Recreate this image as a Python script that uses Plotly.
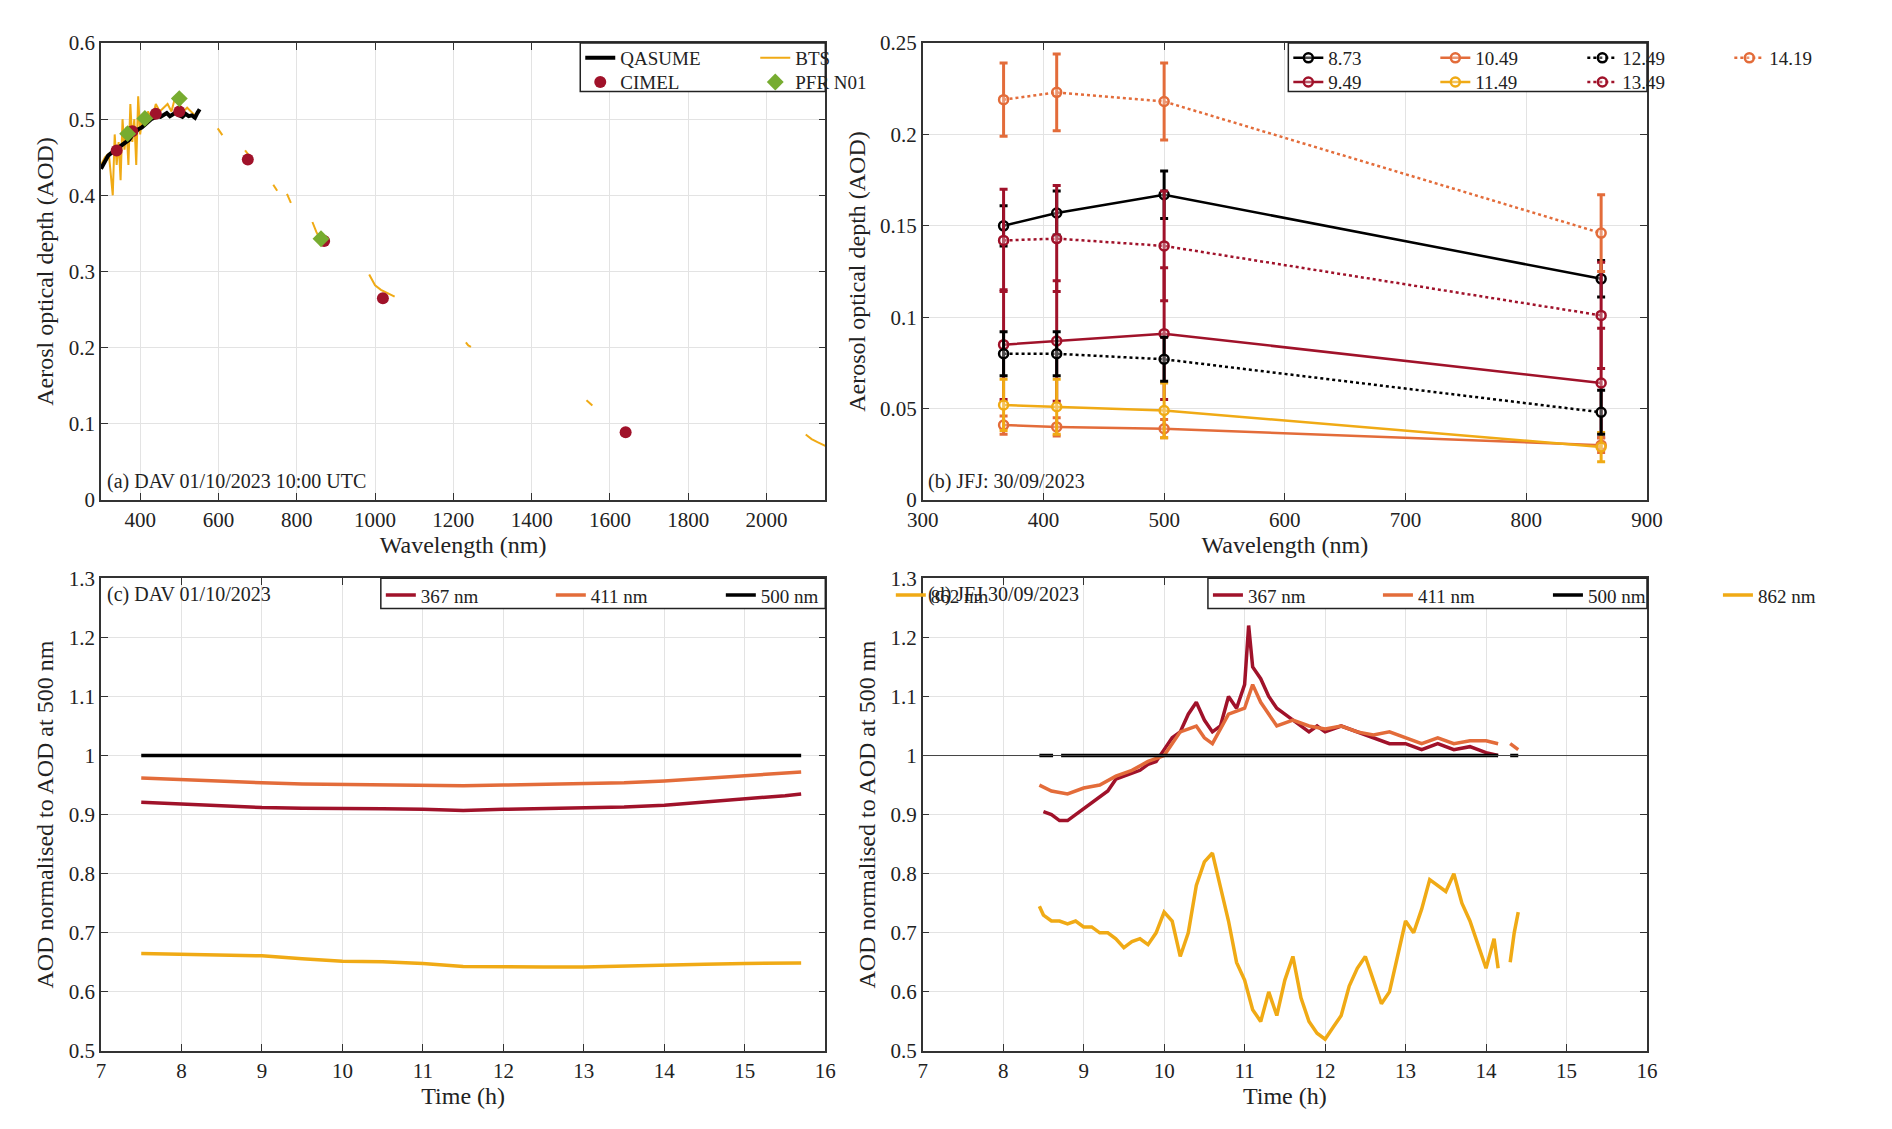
import plotly.graph_objects as go

# ---- panel (a): AOD spectrum DAV
qas_wl = [300, 305, 310, 318, 325, 332, 340, 348, 356, 364, 372, 380, 388, 396, 404, 412, 420, 428, 436, 444, 452, 460, 468, 476, 484, 492, 500, 508, 516, 524, 532, 540, 546, 552]
qas_aod = [0.435, 0.440, 0.446, 0.452, 0.455, 0.457, 0.460, 0.464, 0.467, 0.470, 0.473, 0.479, 0.483, 0.487, 0.489, 0.493, 0.497, 0.500, 0.502, 0.504, 0.503, 0.506, 0.508, 0.504, 0.507, 0.509, 0.505, 0.503, 0.507, 0.504, 0.505, 0.502, 0.508, 0.513]
bts_wl = [300, 310, 320, 330, 335, 340, 345, 350, 355, 360, 365, 370, 375, 380, 385, 390, 395, 400, 405, 410, 420, 430, 440, 450, 460, 470, 480, 490, 500, 510, 520, 530, 540, 550, None,
          598, 604, 610, None, 668, 674, 680, None, 740, 745, 750, None, 775, 780, 785, None,
          840, 850, 860, 870, 880, None, 985, 1000, 1015, 1030, 1045, 1050, None,
          1232, 1238, 1245, None, 1540, 1548, 1555, None, 2100, 2115, 2130, 2150]
bts_aod = [0.44, 0.45, 0.455, 0.40, 0.48, 0.44, 0.47, 0.42, 0.50, 0.46, 0.49, 0.44, 0.52, 0.47, 0.50, 0.44, 0.53, 0.48, 0.50, 0.49, 0.51, 0.50, 0.52, 0.51, 0.515, 0.52, 0.51, 0.53, 0.52, 0.51, 0.515, 0.51, 0.505, 0.51, None,
           0.488, 0.483, 0.479, None, 0.459, 0.455, 0.451, None, 0.414, 0.410, 0.406, None, 0.402, 0.396, 0.390, None,
           0.365, 0.352, 0.342, 0.337, 0.336, None, 0.296, 0.282, 0.276, 0.272, 0.268, 0.267, None,
           0.207, 0.203, 0.201, None, 0.131, 0.127, 0.124, None, 0.086, 0.080, 0.076, 0.071]
cimel_wl = [340, 380, 440, 500, 675, 870, 1020, 1640]
cimel_aod = [0.459, 0.484, 0.507, 0.510, 0.447, 0.340, 0.265, 0.089]
pfr_wl = [368, 412, 500, 862]
pfr_aod = [0.481, 0.501, 0.527, 0.343]

# ---- panel (b): AOD spectra JFJ at different hours
b_wl = [367, 411, 500, 862]
b_hours = ["8.73", "9.49", "10.49", "11.49", "12.49", "13.49", "14.19"]
b_aod = {
    "8.73": [0.150, 0.157, 0.167, 0.121],
    "9.49": [0.085, 0.087, 0.091, 0.064],
    "10.49": [0.041, 0.040, 0.039, 0.030],
    "11.49": [0.052, 0.051, 0.049, 0.029],
    "12.49": [0.080, 0.080, 0.077, 0.048],
    "13.49": [0.142, 0.143, 0.139, 0.101],
    "14.19": [0.219, 0.223, 0.218, 0.146],
}
b_err = {
    "8.73": [0.011, 0.012, 0.013, 0.010],
    "9.49": [0.030, 0.033, 0.036, 0.030],
    "10.49": [0.005, 0.005, 0.005, 0.004],
    "11.49": [0.014, 0.015, 0.015, 0.008],
    "12.49": [0.012, 0.012, 0.012, 0.012],
    "13.49": [0.028, 0.029, 0.030, 0.029],
    "14.19": [0.020, 0.021, 0.021, 0.021],
}

# ---- panel (c): normalised AOD DAV
c_t = [7.5, 8.0, 8.5, 9.0, 9.5, 10.0, 10.5, 11.0, 11.5, 12.0, 12.5, 13.0, 13.5, 14.0, 14.5, 15.0, 15.5, 15.7]
c_367 = [0.921, 0.918, 0.915, 0.912, 0.911, 0.911, 0.910, 0.909, 0.907, 0.909, 0.910, 0.911, 0.913, 0.916, 0.921, 0.926, 0.932, 0.935]
c_411 = [0.962, 0.959, 0.956, 0.954, 0.952, 0.951, 0.951, 0.950, 0.949, 0.950, 0.951, 0.952, 0.954, 0.957, 0.961, 0.965, 0.970, 0.972]
c_500 = [1.0] * 18
c_862 = [0.665, 0.664, 0.663, 0.661, 0.656, 0.652, 0.651, 0.648, 0.643, 0.642, 0.642, 0.642, 0.644, 0.646, 0.647, 0.648, 0.649, 0.649]

# ---- panel (d): normalised AOD JFJ
d_t862 = [8.45, 8.5, 8.6, 8.7, 8.8, 8.9, 9.0, 9.1, 9.2, 9.3, 9.4, 9.5, 9.6, 9.7, 9.8, 9.9, 10.0, 10.1, 10.2, 10.3, 10.4, 10.5, 10.6, 10.7, 10.8, 10.9,
          11.0, 11.1, 11.2, 11.3, 11.4, 11.5, 11.6, 11.7, 11.8, 11.9, 12.0, 12.1, 12.2, 12.3, 12.4, 12.5, 12.6, 12.7, 12.8, 12.9,
          13.0, 13.1, 13.2, 13.3, 13.4, 13.5, 13.6, 13.7, 13.8, 13.9, 14.0, 14.1, 14.15, None, 14.3, 14.35, 14.4]
d_862 = [0.745, 0.73, 0.72, 0.72, 0.715, 0.72, 0.71, 0.71, 0.70, 0.70, 0.69, 0.675, 0.685, 0.69, 0.68, 0.70, 0.735, 0.72, 0.66, 0.70, 0.78, 0.82, 0.835, 0.78, 0.72, 0.65,
         0.62, 0.57, 0.55, 0.60, 0.56, 0.62, 0.66, 0.59, 0.55, 0.53, 0.52, 0.54, 0.56, 0.61, 0.64, 0.66, 0.62, 0.58, 0.60, 0.66,
         0.72, 0.70, 0.74, 0.79, 0.78, 0.77, 0.80, 0.75, 0.72, 0.68, 0.64, 0.69, 0.64, None, 0.65, 0.70, 0.735]
d_t367 = [8.5, 8.6, 8.7, 8.8, 8.9, 9.0, 9.1, 9.2, 9.3, 9.4, 9.5, 9.6, 9.7, 9.8, 9.9, 10.0, 10.1, 10.2, 10.3, 10.4, 10.5, 10.6, 10.7, 10.8, 10.9,
          11.0, 11.05, 11.1, 11.2, 11.3, 11.4, 11.5, 11.6, 11.7, 11.8, 11.9, 12.0, 12.2, 12.4, 12.6, 12.8, 13.0, 13.2, 13.4, 13.6, 13.8, 14.0, 14.15]
d_367 = [0.905, 0.90, 0.89, 0.89, 0.90, 0.91, 0.92, 0.93, 0.94, 0.96, 0.965, 0.97, 0.975, 0.985, 0.99, 1.01, 1.03, 1.04, 1.07, 1.09, 1.06, 1.04, 1.05, 1.10, 1.08,
         1.12, 1.22, 1.15, 1.13, 1.10, 1.08, 1.07, 1.06, 1.05, 1.04, 1.05, 1.04, 1.05, 1.04, 1.03, 1.02, 1.02, 1.01, 1.02, 1.01, 1.015, 1.005, 1.0]
d_t411 = [8.45, 8.6, 8.8, 9.0, 9.2, 9.4, 9.6, 9.8, 10.0, 10.2, 10.4, 10.5, 10.6, 10.8, 11.0, 11.1, 11.2, 11.4, 11.6, 11.8, 12.0, 12.2, 12.4, 12.6, 12.8,
          13.0, 13.2, 13.4, 13.6, 13.8, 14.0, 14.15, None, 14.3, 14.4]
d_411 = [0.95, 0.94, 0.935, 0.945, 0.95, 0.965, 0.975, 0.99, 1.00, 1.04, 1.05, 1.03, 1.02, 1.07, 1.08, 1.12, 1.09, 1.05, 1.06, 1.05, 1.045, 1.05, 1.04, 1.035, 1.04,
         1.03, 1.02, 1.03, 1.02, 1.025, 1.025, 1.02, None, 1.02, 1.01]
d_t500 = [8.45, 8.62, None, 8.72, 14.15, None, 14.3, 14.4]
d_500 = [1.0, 1.0, None, 1.0, 1.0, None, 1.0, 1.0]

BLACK = "#000000"
RED = "#a0122a"
ORANGE = "#e36c3a"
YELLOW = "#f0aa15"
GREEN = "#77ac30"
FONT = "Liberation Serif"

fig = go.Figure()

# (a) - two legend rows
fig.add_trace(go.Scatter(x=bts_wl, y=bts_aod, mode="lines", name="BTS", line=dict(color=YELLOW, width=2),
                         xaxis="x", yaxis="y", legend="legend", legendrank=2))
fig.add_trace(go.Scatter(x=qas_wl, y=qas_aod, mode="lines", name="QASUME", line=dict(color=BLACK, width=4),
                         xaxis="x", yaxis="y", legend="legend", legendrank=1))
fig.add_trace(go.Scatter(x=cimel_wl, y=cimel_aod, mode="markers", name="CIMEL", marker=dict(color=RED, size=12),
                         xaxis="x", yaxis="y", legend="legend5", legendrank=3))
fig.add_trace(go.Scatter(x=pfr_wl, y=pfr_aod, mode="markers", name="PFR N01", marker=dict(color=GREEN, size=13, symbol="diamond"),
                         xaxis="x", yaxis="y", legend="legend5", legendrank=4))

# (b)
styles = {
    "8.73": (BLACK, "solid", "legend2"), "9.49": (RED, "solid", "legend6"), "10.49": (ORANGE, "solid", "legend2"),
    "11.49": (YELLOW, "solid", "legend6"), "12.49": (BLACK, "dot", "legend2"), "13.49": (RED, "dot", "legend6"),
    "14.19": (ORANGE, "dot", "legend2"),
}
for h in b_hours:
    col, dash, lg = styles[h]
    fig.add_trace(go.Scatter(x=b_wl, y=b_aod[h], mode="lines+markers", name=h,
                             line=dict(color=col, width=2.5, dash=dash),
                             marker=dict(color="rgba(255,255,255,0.3)", size=9, line=dict(color=col, width=2.5)),
                             error_y=dict(type="data", array=b_err[h], color=col, thickness=3, width=4),
                             xaxis="x2", yaxis="y2", legend=lg))

# (c) and (d)
for t, y, nm, col in [(c_t, c_367, "367 nm", RED), (c_t, c_411, "411 nm", ORANGE), (c_t, c_500, "500 nm", BLACK), (c_t, c_862, "862 nm", YELLOW)]:
    fig.add_trace(go.Scatter(x=t, y=y, mode="lines", name=nm, line=dict(color=col, width=3.5),
                             xaxis="x3", yaxis="y3", legend="legend3"))
for t, y, nm, col in [(d_t367, d_367, "367 nm", RED), (d_t411, d_411, "411 nm", ORANGE), (d_t500, d_500, "500 nm", BLACK), (d_t862, d_862, "862 nm", YELLOW)]:
    fig.add_trace(go.Scatter(x=t, y=y, mode="lines", name=nm, line=dict(color=col, width=3.5),
                             xaxis="x4", yaxis="y4", legend="legend4"))

xa, xb = [0, 0.4685], [0.5315, 1]
ytop, ybot = [0.5466, 1], [0, 0.469]

def ax(**kw):
    d = dict(showline=True, linecolor="#333", linewidth=1.5, mirror="ticks", ticks="inside", ticklen=7,
             tickcolor="#333", showgrid=True, gridcolor="#e3e3e3", gridwidth=1.2, zeroline=False,
             tickfont=dict(size=21, family=FONT, color="#222"))
    d.update(kw)
    return d

title_font = dict(size=24, family=FONT, color="#222")
fig.update_layout(
    width=1892, height=1129, paper_bgcolor="white", plot_bgcolor="white",
    margin=dict(l=93, r=36, t=35, b=86),
    font=dict(family=FONT, color="#222"),
    xaxis=ax(domain=xa, anchor="y", range=[300, 2150], dtick=200, tick0=0,
             title=dict(text="Wavelength (nm)", font=title_font, standoff=4)),
    yaxis=ax(domain=ytop, anchor="x", range=[0, 0.6], dtick=0.1,
             title=dict(text="Aerosl optical depth (AOD)", font=title_font, standoff=8)),
    xaxis2=ax(domain=xb, anchor="y2", range=[300, 900], dtick=100,
              title=dict(text="Wavelength (nm)", font=title_font, standoff=4)),
    yaxis2=ax(domain=ytop, anchor="x2", range=[0, 0.25], dtick=0.05,
              title=dict(text="Aerosol optical depth (AOD)", font=title_font, standoff=8)),
    xaxis3=ax(domain=xa, anchor="y3", range=[7, 16], dtick=1,
              title=dict(text="Time (h)", font=title_font, standoff=4)),
    yaxis3=ax(domain=ybot, anchor="x3", range=[0.5, 1.3], dtick=0.1,
              title=dict(text="AOD normalised to AOD at 500 nm", font=title_font, standoff=8)),
    xaxis4=ax(domain=xb, anchor="y4", range=[7, 16], dtick=1,
              title=dict(text="Time (h)", font=title_font, standoff=4)),
    yaxis4=ax(domain=ybot, anchor="x4", range=[0.5, 1.3], dtick=0.1,
              title=dict(text="AOD normalised to AOD at 500 nm", font=title_font, standoff=8)),
)

leg = dict(orientation="h", xanchor="left", yanchor="top", bgcolor="rgba(0,0,0,0)", borderwidth=0,
           font=dict(size=19, family=FONT, color="#222"), tracegroupgap=0, itemwidth=30)
boxa = [0.31, xa[1], 0.952, 1]
boxb = [0.768, 1, 0.952, 1]
fig.update_layout(
    legend=dict(leg, x=boxa[0], y=1.004, entrywidth=130),
    legend5=dict(leg, x=boxa[0], y=0.980, entrywidth=130),
    legend2=dict(leg, x=boxb[0], y=1.004, entrywidth=102),
    legend6=dict(leg, x=boxb[0], y=0.980, entrywidth=102),
    legend3=dict(leg, x=0.181, y=ybot[1] + 0.002, entrywidth=125),
    legend4=dict(leg, x=0.716, y=ybot[1] + 0.002, entrywidth=125),
)
for x0, x1, y0, y1 in [boxa, boxb, [0.181, xa[1], ybot[1] - 0.03, ybot[1]], [0.716, 1, ybot[1] - 0.03, ybot[1]]]:
    fig.add_shape(type="rect", xref="paper", yref="paper", x0=x0, x1=x1, y0=y0, y1=y1,
                  line=dict(color="#222", width=1.5), fillcolor="white", layer="above")

labels = [("x domain", "y domain", "(a) DAV 01/10/2023 10:00 UTC", 0.005, 0.01, "bottom"),
          ("x2 domain", "y2 domain", "(b) JFJ: 30/09/2023", 0.005, 0.01, "bottom"),
          ("x3 domain", "y3 domain", "(c) DAV 01/10/2023", 0.005, 0.995, "top"),
          ("x4 domain", "y4 domain", "(d) JFJ 30/09/2023", 0.005, 0.995, "top")]
for xr, yr, txt, x, y, ya in labels:
    fig.add_annotation(xref=xr, yref=yr, x=x, y=y, text=txt, showarrow=False, xanchor="left", yanchor=ya,
                       font=dict(size=20, family=FONT, color="#222"))

fig.add_shape(type="line", xref="x4 domain", yref="y4", x0=0, x1=1, y0=1, y1=1, line=dict(color="#444", width=1))

fig.write_html("out.html")
